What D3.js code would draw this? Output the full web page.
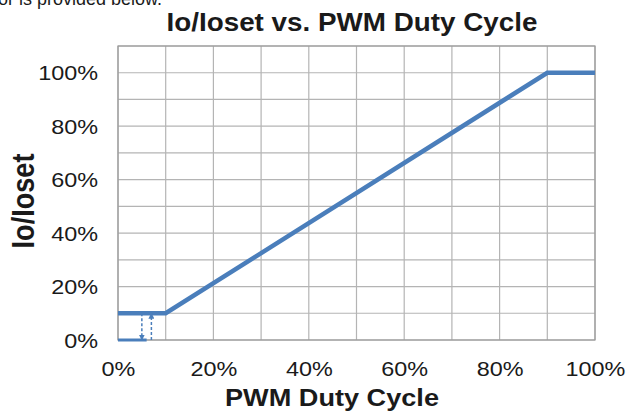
<!DOCTYPE html>
<html><head><meta charset="utf-8">
<script src="https://cdn.jsdelivr.net/npm/d3@7"></script>
<style>body{margin:0;background:#fff}svg{display:block}text{font-family:"Liberation Sans",Arial,sans-serif;fill:#1a1a1a}</style>
</head><body><svg id="c" width="632" height="414"></svg>
<script>
const dutyCycle = [0, 10, 90, 100];
const ioRatio   = [10, 10, 100, 100];
const xTicks = [0, 20, 40, 60, 80, 100];
const yTicks = [0, 20, 40, 60, 80, 100];
const gridX = d3.range(0, 101, 10);
const gridY = d3.range(0, 111, 10);
const offSegment = [[0, 0], [6, 0]];
const arrowDown = [5, 10, 0];
const arrowUp = [7, 0, 10];

const svg = d3.select("#c");
const m = {l:118, r:595, t:46, b:340};
const x = d3.scaleLinear().domain([0,100]).range([m.l, m.r]);
const y = d3.scaleLinear().domain([0,110]).range([m.b, m.t]);
const blue = "#4a7ebb";

function stretch(sel, f){ sel.each(function(){ const w=this.getComputedTextLength(); d3.select(this).attr("textLength", w*f).attr("lengthAdjust","spacingAndGlyphs"); }); }

svg.append("text").attr("x",-2).attr("y",5).attr("font-size",18).text("or is provided below.");

const g = svg.append("g");
g.selectAll(".gx").data(gridX).join("line").attr("x1",d=>x(d)).attr("x2",d=>x(d)).attr("y1",m.t).attr("y2",m.b).attr("stroke","#b4b4b4").attr("stroke-width",1.2);
g.selectAll(".gy").data(gridY).join("line").attr("y1",d=>y(d)).attr("y2",d=>y(d)).attr("x1",m.l).attr("x2",m.r).attr("stroke","#b4b4b4").attr("stroke-width",1.2);
g.append("rect").attr("x",m.l).attr("y",m.t).attr("width",m.r-m.l).attr("height",m.b-m.t).attr("fill","none").attr("stroke","#9a9a9a").attr("stroke-width",1.2);

const xa = svg.append("g").attr("transform",`translate(0,${m.b})`).call(d3.axisBottom(x).tickValues(xTicks).tickSize(0).tickPadding(0).tickFormat(d=>d+"%"));
xa.select(".domain").remove();
xa.selectAll("text").attr("dy",null).attr("y",35.5).attr("font-size",19.5).style("font-family","Liberation Sans").attr("fill","#1a1a1a").call(stretch,1.2);
const ya = svg.append("g").attr("transform",`translate(98,0)`).call(d3.axisLeft(y).tickValues(yTicks).tickSize(0).tickPadding(0).tickFormat(d=>d+"%"));
ya.select(".domain").remove();
ya.selectAll("text").attr("dy","0.36em").attr("x",0).attr("font-size",19.5).style("font-family","Liberation Sans").attr("fill","#1a1a1a").call(stretch,1.2);

const line = d3.line().x((d,i)=>x(dutyCycle[i])).y((d,i)=>y(ioRatio[i]));
svg.append("path").datum(dutyCycle).attr("d",line).attr("fill","none").attr("stroke",blue).attr("stroke-width",4.5);
svg.append("path").attr("d",d3.line().x(d=>x(d[0])).y(d=>y(d[1]))(offSegment)).attr("stroke",blue).attr("stroke-width",3).attr("fill","none");

const defs = svg.append("defs");
defs.append("marker").attr("id","ah").attr("viewBox","0 0 10 10").attr("refX",9).attr("refY",5).attr("markerWidth",4).attr("markerHeight",4).attr("orient","auto")
  .append("path").attr("d","M0,0L10,5L0,10z").attr("fill",blue);
[arrowDown, arrowUp].forEach(a=>{
  svg.append("line").attr("x1",x(a[0])).attr("x2",x(a[0])).attr("y1",y(a[1])).attr("y2",y(a[2])).attr("stroke",blue).attr("stroke-width",1.5).attr("stroke-dasharray","3,2").attr("marker-end","url(#ah)");
});

svg.append("text").attr("x",352).attr("y",31).attr("text-anchor","middle").attr("font-size",25).attr("font-weight","bold").text("Io/Ioset vs. PWM Duty Cycle").attr("textLength",371).attr("lengthAdjust","spacingAndGlyphs");
svg.append("text").attr("x",332).attr("y",406).attr("text-anchor","middle").attr("font-size",24).attr("font-weight","bold").text("PWM Duty Cycle").attr("textLength",214).attr("lengthAdjust","spacingAndGlyphs");
svg.append("text").attr("transform","translate(34,201) scale(1.2,1) rotate(-90)").attr("text-anchor","middle").attr("font-size",26).attr("font-weight","bold").text("Io/Ioset").attr("textLength",95).attr("lengthAdjust","spacingAndGlyphs");
</script></body></html>
